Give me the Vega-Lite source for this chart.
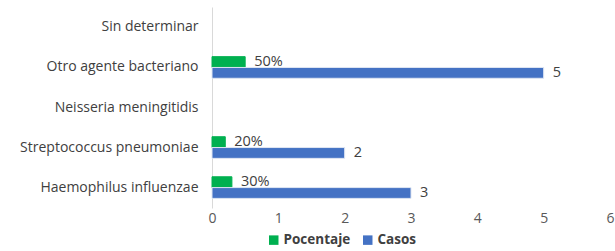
{
  "$schema": "https://vega.github.io/schema/vega-lite/v6.json",
  "autosize": "none",
  "width": 398,
  "height": 201,
  "padding": {"left": 212, "top": 7, "right": 5, "bottom": 43},
  "background": "white",
  "config": {"view": {"stroke": null}, "font": "Open Sans"},
  "data": {"values": [
    {"agente": "Otro agente bacteriano", "serie": "Pocentaje", "valor": 0.5, "etiqueta": "50%"},
    {"agente": "Otro agente bacteriano", "serie": "Casos", "valor": 5, "etiqueta": "5"},
    {"agente": "Streptococcus pneumoniae", "serie": "Pocentaje", "valor": 0.2, "etiqueta": "20%"},
    {"agente": "Streptococcus pneumoniae", "serie": "Casos", "valor": 2, "etiqueta": "2"},
    {"agente": "Haemophilus influenzae", "serie": "Pocentaje", "valor": 0.3, "etiqueta": "30%"},
    {"agente": "Haemophilus influenzae", "serie": "Casos", "valor": 3, "etiqueta": "3"}
  ]},
  "encoding": {
    "y": {"field": "agente", "type": "nominal", "title": null,
      "scale": {"domain": ["Sin determinar", "Otro agente bacteriano", "Neisseria meningitidis", "Streptococcus pneumoniae", "Haemophilus influenzae"], "paddingInner": 0.46, "paddingOuter": 0.24},
      "axis": {"ticks": false, "domainColor": "#d9d9d9", "labelFontSize": 14, "labelColor": "#404040", "labelPadding": 14, "labelFont": "Open Sans"}},
    "yOffset": {"field": "serie", "type": "nominal", "scale": {"domain": ["Pocentaje", "Casos"], "paddingInner": 0}},
    "x": {"field": "valor", "type": "quantitative", "title": null,
      "scale": {"domain": [0, 6]},
      "axis": {"values": [0, 1, 2, 3, 4, 5, 6], "grid": false, "domain": false, "ticks": false, "labelFontSize": 14, "labelColor": "#595959", "labelPadding": 3, "labelFlush": false}}
  },
  "layer": [
    {"mark": {"type": "bar"},
      "encoding": {
        "stroke": {"field": "serie", "type": "nominal", "legend": null, "scale": {"domain": ["Pocentaje", "Casos"], "range": ["#00b050", "#dfe6f3"]}},
        "color": {"field": "serie", "type": "nominal", "title": null,
        "scale": {"domain": ["Pocentaje", "Casos"], "range": ["#00b050", "#4472c4"]},
        "legend": {"orient": "none", "legendX": 55, "legendY": 226, "direction": "horizontal", "symbolType": "square", "symbolSize": 90, "labelFontWeight": "bold", "labelFontSize": 13.5, "labelColor": "#404040", "columnPadding": 10, "labelOffset": 3, "symbolStrokeWidth": 0, "padding": 0}}}},
    {"mark": {"type": "text", "align": "left", "dx": 9, "fontSize": 14.5, "color": "#404040", "baseline": "middle"},
      "encoding": {"text": {"field": "etiqueta"}}}
  ]
}
